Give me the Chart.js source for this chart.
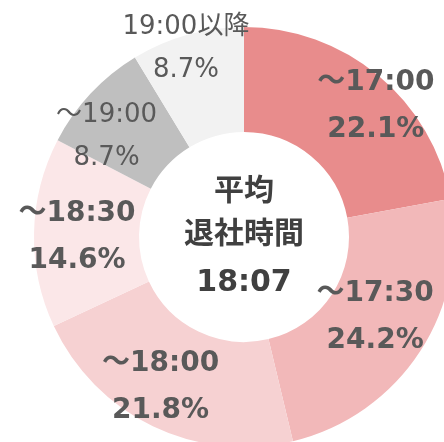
<!DOCTYPE html>
<html>
<head>
<meta charset="utf-8">
<script src="https://cdn.jsdelivr.net/npm/chart.js@4"></script>
<style>
  html, body { margin: 0; padding: 0; background: #fff; overflow: hidden; width: 444px; height: 442px; }
  #wrap { position: absolute; left: 0; top: 0; width: 454px; height: 447px; }
</style>
</head>
<body>
<div id="wrap"><canvas id="chart"></canvas></div>
<script>
const labels = ['～17:00', '～17:30', '～18:00', '～18:30', '～19:00', '19:00以降'];
const shares = [22.1, 24.2, 21.8, 14.6, 8.7, 8.7];
const centerLines = ['平均', '退社時間', '18:07'];

const colors = ['#e88c8c', '#f2b8b9', '#f6d1d2', '#fbe7e8', '#bfbfbf', '#f2f2f2'];
const boldLabel = [true, true, true, true, false, false];
// where each label sits: radius in px, angle nudge in degrees from slice middle
const labelRadius = [186, 154, 172, 167, 170, 197];
const labelNudge = [5.4, -1.4, 3.3, -1.1, -7, -1.5];

const fontStack = "'DejaVu Sans', 'Noto Sans CJK JP', sans-serif";

const sliceLabels = {
    id: 'sliceLabels',
    afterDraw(chart) {
        const ctx = chart.ctx;
        const arcs = chart.getDatasetMeta(0).data;
        ctx.save();
        ctx.fillStyle = '#595959';
        ctx.textAlign = 'center';
        ctx.textBaseline = 'middle';
        arcs.forEach((arc, i) => {
            const mid = (arc.startAngle + arc.endAngle) / 2 + labelNudge[i] * Math.PI / 180;
            const x = arc.x + Math.cos(mid) * labelRadius[i];
            const y = arc.y + Math.sin(mid) * labelRadius[i];
            const gap = boldLabel[i] ? 47 : 43;
            ctx.font = (boldLabel[i] ? 'bold 28px ' : '26px ') + fontStack;
            ctx.fillText(labels[i], x, y - gap / 2);
            ctx.fillText(shares[i].toFixed(1) + '%', x, y + gap / 2);
        });

        const c = arcs[0];
        ctx.fillStyle = '#404040';
        ctx.font = 'bold 30px ' + fontStack;
        const offs = [-45, -2, 46];
        centerLines.forEach((t, i) => ctx.fillText(t, c.x, c.y + offs[i]));
        ctx.restore();
    }
};

new Chart(document.getElementById('chart'), {
    type: 'doughnut',
    data: {
        labels: labels,
        datasets: [{
            data: shares,
            backgroundColor: colors,
            borderWidth: 0
        }]
    },
    options: {
        responsive: true,
        maintainAspectRatio: false,
        animation: false,
        cutout: '50%',
        layout: { padding: { left: 34, top: 27, right: 0, bottom: 0 } },
        plugins: {
            legend: { display: false },
            tooltip: { enabled: false }
        }
    },
    plugins: [sliceLabels]
});
</script>
</body>
</html>
